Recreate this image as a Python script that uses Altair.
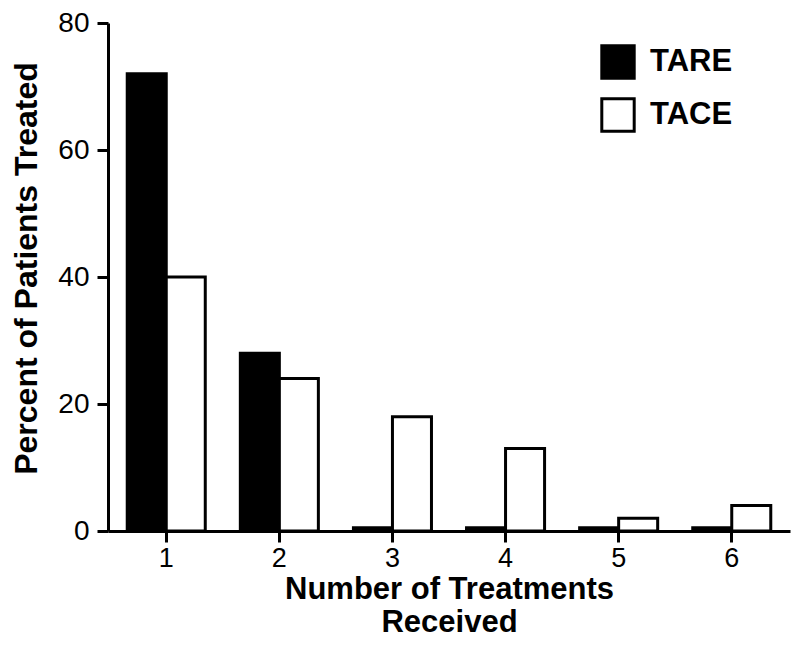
import altair as alt
import pandas as pd

treatments = ["1", "2", "3", "4", "5", "6"]
tare = [72, 28, 0.5, 0.5, 0.5, 0.5]
tace = [40, 24, 18, 13, 2, 4]
series = ["TARE", "TACE"]

rows = []
for i, t in enumerate(treatments):
    rows.append({"n": t, "group": "TARE", "pct": tare[i]})
    rows.append({"n": t, "group": "TACE", "pct": tace[i]})
df = pd.DataFrame(rows)

font = "Liberation Sans"

chart = alt.Chart(df).mark_bar(stroke="black", strokeWidth=3).encode(
    x=alt.X("n:N", sort=treatments,
            scale=alt.Scale(paddingInner=0.31, paddingOuter=0.17),
            axis=alt.Axis(title=["Number of Treatments", "Received"], labelAngle=0,
                          labelFontSize=27, labelFont=font, labelColor="black",
                          titleFontSize=31, titleFont=font, titleFontWeight="bold",
                          titleColor="black", titleY=43, titleBaseline="top",
                          titleLineHeight=33,
                          domainColor="black", domainWidth=3, tickColor="black",
                          tickWidth=3, tickSize=11, labelPadding=3)),
    xOffset=alt.XOffset("group:N", sort=series),
    y=alt.Y("pct:Q", scale=alt.Scale(domain=[0, 80], nice=False),
            axis=alt.Axis(title="Percent of Patients Treated", values=[0, 20, 40, 60, 80],
                          labelFontSize=28, labelFont=font, labelColor="black",
                          titleFontSize=32, titleFont=font, titleFontWeight="bold",
                          titleColor="black", titlePadding=14, titleY=245, grid=False,
                          domainColor="black", domainWidth=3, tickColor="black",
                          tickWidth=3, tickSize=11, labelPadding=8)),
    fill=alt.Fill("group:N", scale=alt.Scale(domain=series, range=["black", "white"]),
                  legend=alt.Legend(title=None, orient="none", legendX=492, legendY=21,
                                    symbolType="square", symbolSize=1050,
                                    symbolStrokeColor="black", symbolStrokeWidth=3,
                                    labelFontSize=31, labelFont=font, labelFontWeight="bold",
                                    labelColor="black", rowPadding=7, labelOffset=14)),
).properties(
    width=682, height=508,
    autosize=alt.AutoSizeParams(type="none"),
    padding={"left": 100, "top": 15, "right": 2, "bottom": 127},
).configure_view(stroke=None)

chart.save("out.html", embed_options={"renderer": "svg", "actions": False})
